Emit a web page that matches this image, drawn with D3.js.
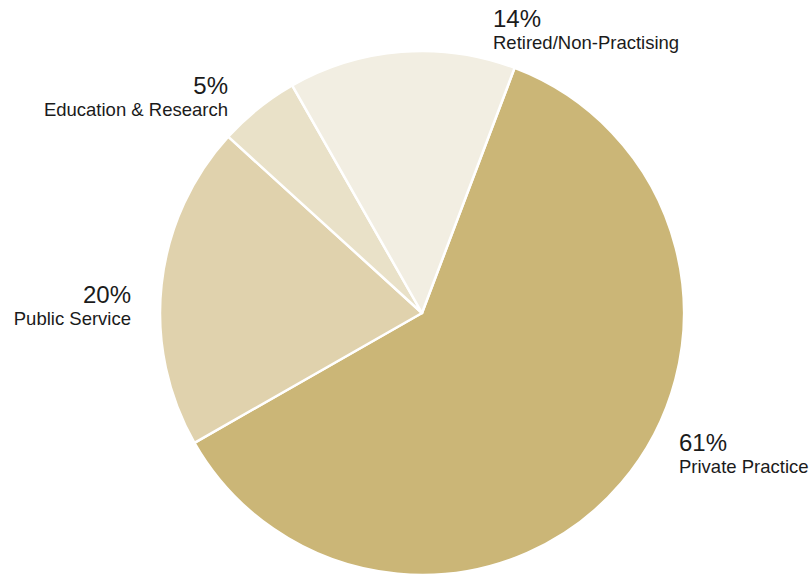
<!DOCTYPE html>
<html>
<head>
<meta charset="utf-8">
<script src="https://cdn.jsdelivr.net/npm/d3@7"></script>
<style>
  html, body { margin: 0; padding: 0; background: #fff; }
  svg { display: block; }
  text { font-family: "Liberation Sans", Arial, Helvetica, sans-serif; fill: #1b1b1b; }
</style>
</head>
<body>
<svg id="chart" width="812" height="575"></svg>
<script>
// Share of members by field of work
const categories = ["Private Practice", "Public Service", "Education & Research", "Retired/Non-Practising"];
const shares = [61, 20, 5, 14];
const colours = ["#cbb677", "#e0d2ad", "#e9e1c8", "#f2eee2"];

// Layout
const width = 812, height = 575;
const cx = 422, cy = 313, radius = 262;
const startDeg = 20.7;
// Label anchor points (x, baseline of the percentage) and text alignment
const labelSpots = {
  "Private Practice":        { x: 679, y: 451, anchor: "start" },
  "Public Service":          { x: 131, y: 303, anchor: "end" },
  "Education & Research":    { x: 228, y: 94,  anchor: "end" },
  "Retired/Non-Practising":  { x: 493, y: 27,  anchor: "start" }
};

const data = categories.map((c, i) => ({ name: c, value: shares[i], colour: colours[i] }));

const svg = d3.select("#chart");

const start = startDeg * Math.PI / 180;
const pie = d3.pie()
  .sort(null)
  .value(d => d.value)
  .startAngle(start)
  .endAngle(start + 2 * Math.PI);

const arc = d3.arc().innerRadius(0).outerRadius(radius);

const g = svg.append("g").attr("transform", `translate(${cx},${cy})`);

g.selectAll("path.slice")
  .data(pie(data))
  .join("path")
  .attr("class", "slice")
  .attr("d", arc)
  .attr("fill", d => d.data.colour)
  .attr("stroke", "#ffffff")
  .attr("stroke-width", 2.5)
  .attr("stroke-linejoin", "round");

const labels = svg.selectAll("g.label")
  .data(data)
  .join("g")
  .attr("class", "label")
  .attr("transform", d => `translate(${labelSpots[d.name].x},${labelSpots[d.name].y})`);

labels.append("text")
  .attr("text-anchor", d => labelSpots[d.name].anchor)
  .attr("font-size", 24)
  .text(d => d.value + "%");

labels.append("text")
  .attr("text-anchor", d => labelSpots[d.name].anchor)
  .attr("y", 22)
  .attr("font-size", 18.5)
  .text(d => d.name);
</script>
</body>
</html>
